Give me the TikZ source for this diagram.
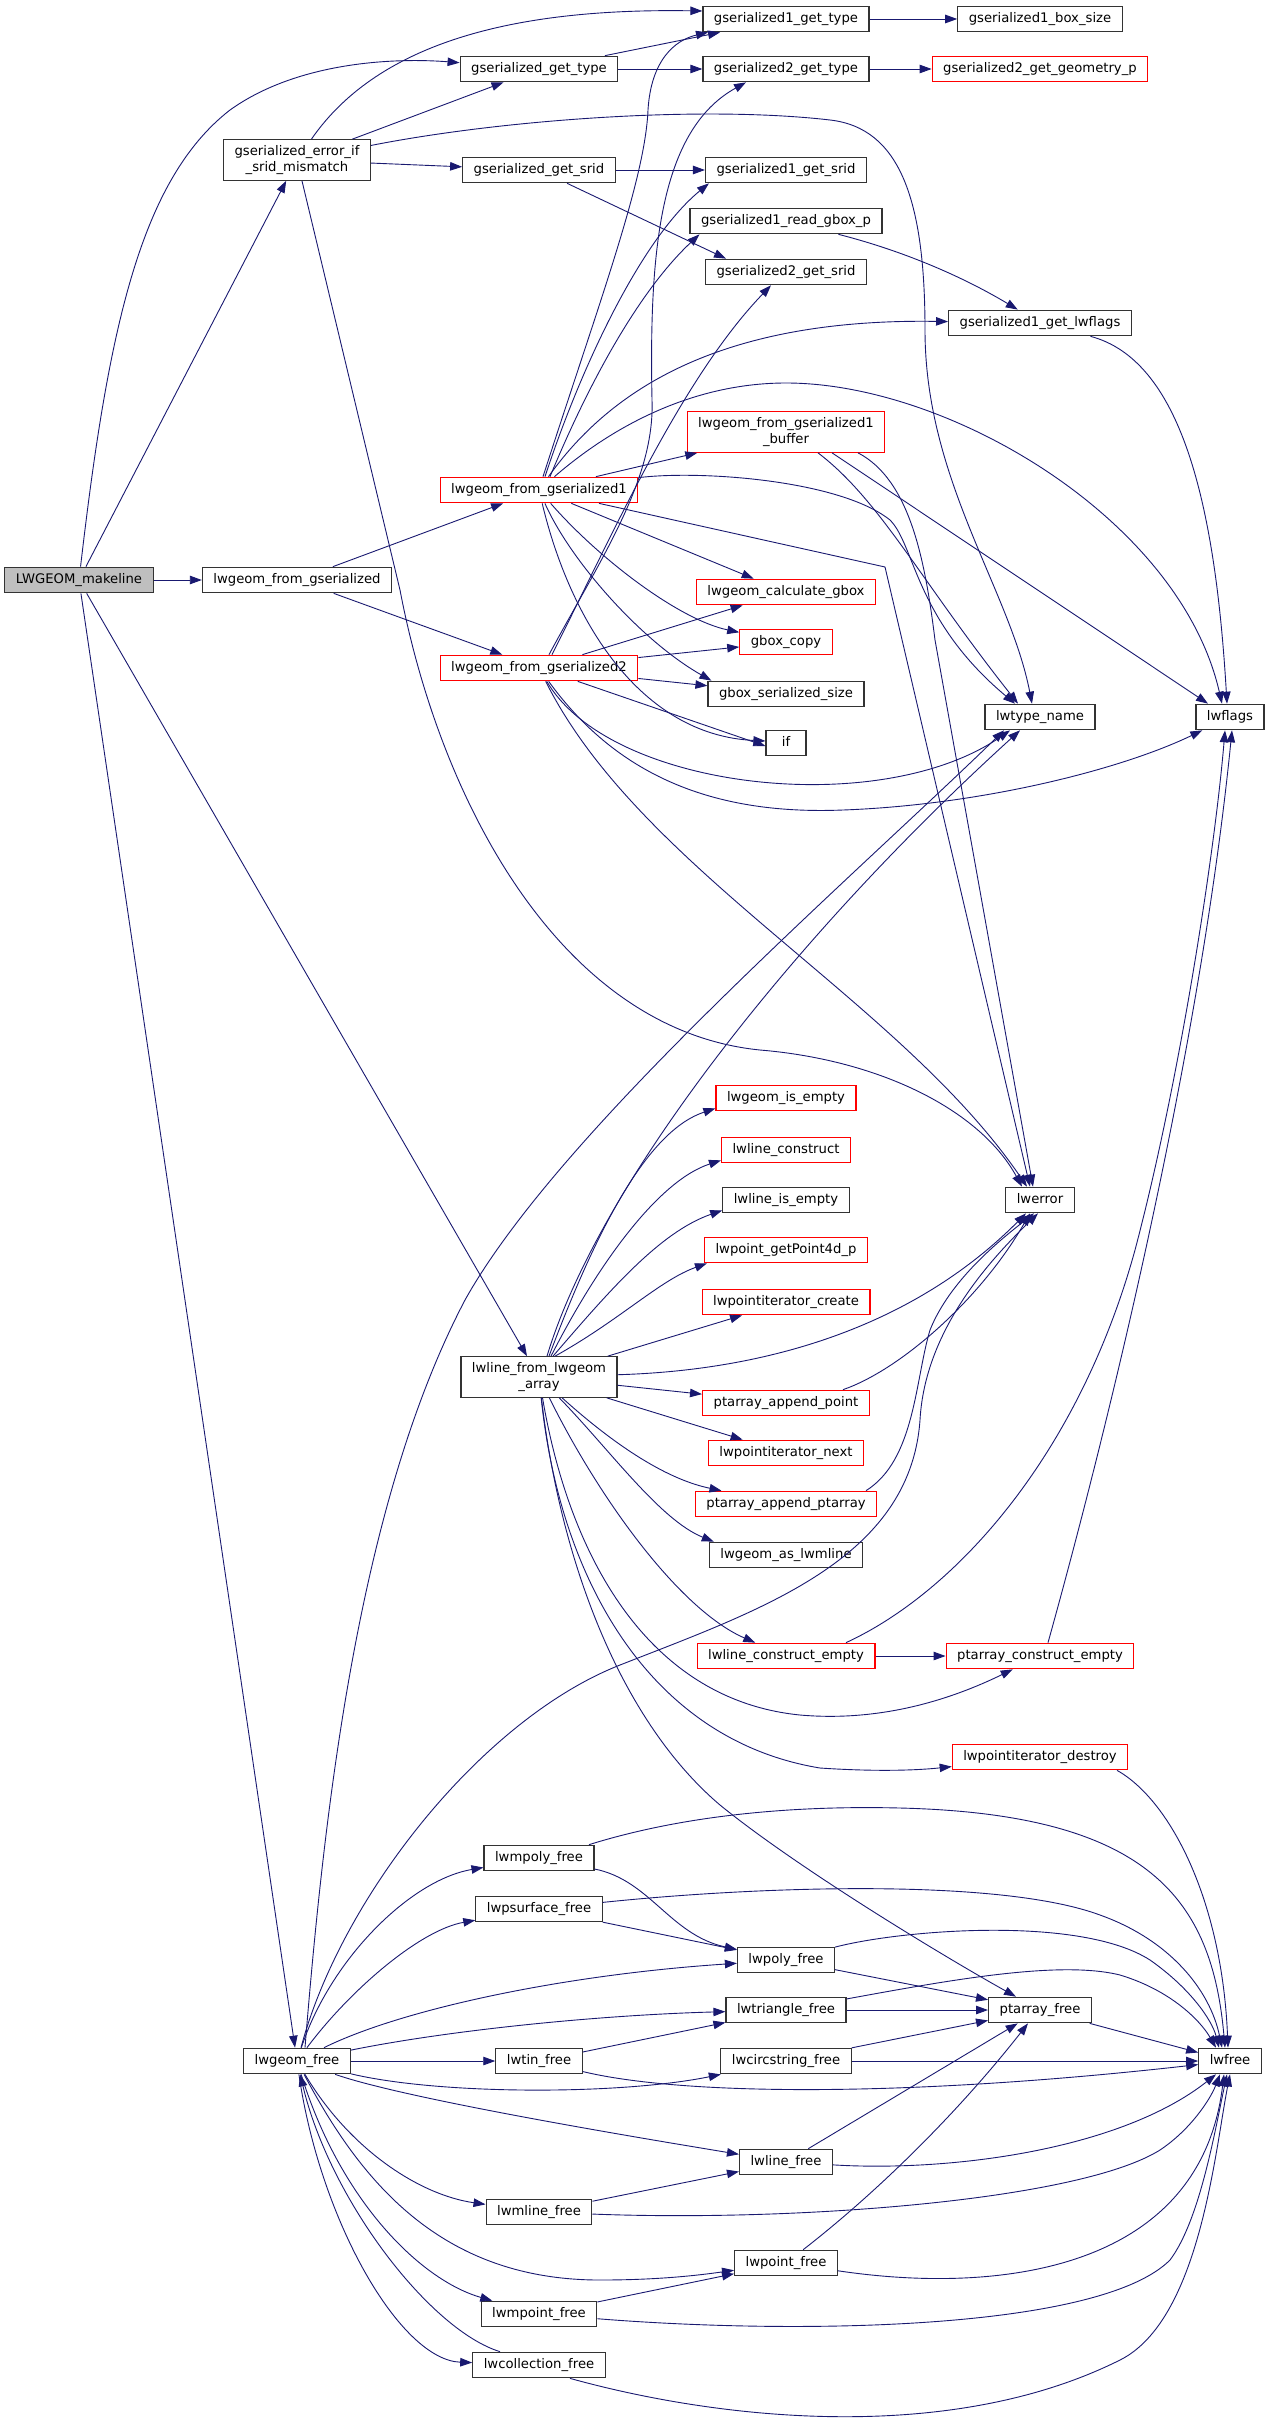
\documentclass[tikz,border=0pt]{standalone}
\usepackage{fontspec}
\setmainfont{DejaVu Sans}
\usetikzlibrary{arrows.meta}
\definecolor{edgeblue}{RGB}{25,25,112}
\definecolor{mainfill}{RGB}{191,191,191}

\begin{document}
\begin{tikzpicture}[x=1pt,y=-1pt,
  fn/.style={draw=black!80,line width=1.2pt,fill=white,font=\fontsize{13.2}{15.5}\selectfont,
    inner xsep=11pt,inner ysep=0pt,minimum height=25.5pt,minimum width=40pt,
    text height=9.8pt,text depth=3.2pt},
  fnred/.style={fn,draw=red},
  fnmain/.style={fn,fill=mainfill},
  two/.style={text height=,text depth=,align=center,minimum height=40.5pt},
  call/.style={draw=edgeblue,line width=0.9pt,-{Triangle[length=12pt,width=8.5pt]}}]
\useasboundingbox (0,0) rectangle (1269,2424);

\node[fnmain] (mk) at (79,580) {LWGEOM\_makeline};
\node[fn] (fg) at (297,580) {lwgeom\_from\_gserialized};
\node[fn,two] (em) at (297,160) {gserialized\_error\_if\\\_srid\_mismatch};
\node[fn] (lf) at (297,2061) {lwgeom\_free};

\node[fn] (gt) at (539,69) {gserialized\_get\_type};
\node[fn] (gs) at (539,170) {gserialized\_get\_srid};
\node[fnred] (g1) at (539,490) {lwgeom\_from\_gserialized1};
\node[fnred] (g2) at (539,668) {lwgeom\_from\_gserialized2};
\node[fn,two] (la) at (539,1377) {lwline\_from\_lwgeom\\\_array};
\node[fn] (mpoly) at (539,1858) {lwmpoly\_free};
\node[fn] (psurf) at (539,1909) {lwpsurface\_free};
\node[fn] (tin) at (539,2061) {lwtin\_free};
\node[fn] (mline) at (539,2212) {lwmline\_free};
\node[fn] (mpoint) at (539,2314) {lwmpoint\_free};
\node[fn] (coll) at (539,2365) {lwcollection\_free};

\node[fn] (g1t) at (786,19) {gserialized1\_get\_type};
\node[fn] (g2t) at (786,69) {gserialized2\_get\_type};
\node[fn] (g1s) at (786,170) {gserialized1\_get\_srid};
\node[fn] (rgb) at (786,221) {gserialized1\_read\_gbox\_p};
\node[fn] (g2s) at (786,272) {gserialized2\_get\_srid};
\node[fnred,two] (buf) at (786,432) {lwgeom\_from\_gserialized1\\\_buffer};
\node[fnred] (cg) at (786,592) {lwgeom\_calculate\_gbox};
\node[fnred] (gc) at (786,642) {gbox\_copy};
\node[fn] (gss) at (786,694) {gbox\_serialized\_size};
\node[fn] (iff) at (786,743) {if};
\node[fnred] (ie) at (786,1098) {lwgeom\_is\_empty};
\node[fnred] (lc) at (786,1150) {lwline\_construct};
\node[fn] (lie) at (786,1200) {lwline\_is\_empty};
\node[fnred] (p4d) at (786,1250) {lwpoint\_getPoint4d\_p};
\node[fnred] (pic) at (786,1302) {lwpointiterator\_create};
\node[fnred] (pap) at (786,1403) {ptarray\_append\_point};
\node[fnred] (pin) at (786,1453) {lwpointiterator\_next};
\node[fnred] (papa) at (786,1504) {ptarray\_append\_ptarray};
\node[fn] (asm) at (786,1555) {lwgeom\_as\_lwmline};
\node[fnred] (lce) at (786,1656) {lwline\_construct\_empty};
\node[fn] (poly) at (786,1960) {lwpoly\_free};
\node[fn] (tri) at (786,2010) {lwtriangle\_free};
\node[fn] (circ) at (786,2061) {lwcircstring\_free};
\node[fn] (line) at (786,2162) {lwline\_free};
\node[fn] (point) at (786,2263) {lwpoint\_free};

\node[fn] (bs) at (1040,19) {gserialized1\_box\_size};
\node[fnred] (gp) at (1040,69) {gserialized2\_get\_geometry\_p};
\node[fn] (lwf) at (1040,323) {gserialized1\_get\_lwflags};
\node[fn] (lt) at (1040,717) {lwtype\_name};
\node[fn] (err) at (1040,1200) {lwerror};
\node[fnred] (pce) at (1040,1656) {ptarray\_construct\_empty};
\node[fnred] (pid) at (1040,1757) {lwpointiterator\_destroy};
\node[fn] (pf) at (1040,2010) {ptarray\_free};

\node[fn] (flags) at (1230,717) {lwflags};
\node[fn] (free) at (1230,2061) {lwfree};

\draw[call] (mk) -- (em);
\draw[call] (mk) .. controls (108,330) and (140,180) .. (230,110) .. controls (300,60) and (400,58) .. (gt);
\draw[call] (mk) -- (fg);
\draw[call] (mk) -- (la);
\draw[call] (mk) -- (lf);

\draw[call] (em) -- (gt);
\draw[call] (em) .. controls (380,40) and (520,8) .. ([yshift=8pt]g1t.west);
\draw[call] (em) -- (gs);
\draw[call] (em) .. controls (500,120) and (700,105) .. (830,120) .. controls (900,128) and (925,200) .. (925,330) .. controls (925,480) and (1010,590) .. ([xshift=-8pt]lt.north);
\draw[call] (em) -- (400,590) .. controls (440,800) and (560,1030) .. (760,1050) .. controls (880,1060) and (980,1110) .. ([xshift=-18pt]err.north);

\draw[call] (fg) -- (g1);
\draw[call] (fg) -- (g2);
\draw[call] (gt) -- (g1t);
\draw[call] (gt) -- (g2t);
\draw[call] (gs) -- (g1s);
\draw[call] (gs) -- ([xshift=-60pt]g2s.north);
\draw[call] (g1t) -- (bs);
\draw[call] (g2t) -- (gp);
\draw[call] (rgb) .. controls (900,250) and (960,275) .. (lwf);
\draw[call] (lwf) .. controls (1180,360) and (1215,500) .. ([xshift=-3pt]flags.north);

\draw[call] ([xshift=4pt]g1.north) .. controls (600,300) and (645,180) .. (648,110) .. controls (651,60) and (675,40) .. ([xshift=-78pt]g1t.south);
\draw[call] ([xshift=6pt]g1.north) .. controls (580,370) and (640,240) .. ([xshift=4pt]g1s.south west);
\draw[call] ([xshift=11pt]g1.north) .. controls (590,380) and (640,290) .. ([xshift=10pt]rgb.south west);
\draw[call] (g1) .. controls (610,390) and (720,318) .. (lwf);
\draw[call] (g1) .. controls (620,420) and (700,383) .. (786,383) .. controls (950,383) and (1180,520) .. ([xshift=-8pt]flags.north);
\draw[call] (g1) -- (buf);
\draw[call] (g1) .. controls (700,470) and (840,480) .. (890,520) .. controls (915,545) and (915,620) .. ([xshift=-25pt]lt.north);
\draw[call] (g1) -- (885,567) -- ([xshift=-10pt]err.north);
\draw[call] (g1) -- (cg);
\draw[call] (g1) .. controls (600,560) and (680,620) .. (gc);
\draw[call] (g1) .. controls (570,560) and (640,640) .. ([xshift=4pt]gss.north west);
\draw[call] (g1) .. controls (570,620) and (640,735) .. ([yshift=2pt]iff.west);

\draw[call] ([xshift=10pt]g2.north) .. controls (600,560) and (655,480) .. (652,400) .. controls (649,250) and (660,130) .. ([xshift=-40pt]g2t.south);
\draw[call] ([xshift=13pt]g2.north) .. controls (610,540) and (680,380) .. ([xshift=-15pt]g2s.south);
\draw[call] (g2) -- (cg);
\draw[call] (g2) -- (gc);
\draw[call] (g2) -- (gss);
\draw[call] (g2) -- ([yshift=-3pt]iff.west);
\draw[call] (g2) .. controls (610,790) and (880,820) .. ([xshift=-30pt]lt.south);
\draw[call] (g2) .. controls (620,780) and (720,815) .. (843,810) .. controls (980,805) and (1120,770) .. (flags);
\draw[call] (g2) .. controls (640,870) and (900,1000) .. ([xshift=-13pt]err.north);

\draw[call] ([xshift=32pt]buf.south) .. controls (880,500) and (920,580) .. ([xshift=-22pt]lt.north);
\draw[call] ([xshift=72pt]buf.south) .. controls (910,480) and (925,560) .. (935,640) -- ([xshift=-7pt]err.north);
\draw[call] ([xshift=46pt]buf.south) -- ([xshift=-22pt]flags.north);

\draw[call] ([xshift=8pt]la.north) .. controls (600,1180) and (800,930) .. ([xshift=-20pt]lt.south);
\draw[call] (la) .. controls (780,1370) and (920,1320) .. ([xshift=-14pt]err.south);
\draw[call] ([xshift=10pt]la.north) .. controls (600,1220) and (650,1130) .. ([yshift=3pt]ie.south west);
\draw[call] ([xshift=12pt]la.north) .. controls (600,1260) and (660,1180) .. ([yshift=3pt]lc.south west);
\draw[call] ([xshift=14pt]la.north) .. controls (610,1290) and (660,1232) .. ([yshift=3pt]lie.south west);
\draw[call] ([xshift=16pt]la.north) .. controls (620,1320) and (660,1280) .. ([xshift=3pt]p4d.south west);
\draw[call] (la) -- (pic);
\draw[call] (la) -- (pap);
\draw[call] (la) -- (pin);
\draw[call] (la) .. controls (620,1450) and (670,1480) .. (papa);
\draw[call] (la) .. controls (610,1450) and (660,1520) .. ([xshift=5pt]asm.north west);
\draw[call] (la) .. controls (600,1500) and (680,1610) .. (lce);
\draw[call] (la) .. controls (570,1560) and (650,1700) .. (800,1715) .. controls (880,1722) and (950,1700) .. (pce);
\draw[call] (la) .. controls (560,1580) and (650,1740) .. (820,1768) .. controls (880,1772) and (920,1770) .. (pid);
\draw[call] (la) .. controls (560,1560) and (620,1720) .. (720,1805) .. controls (800,1870) and (950,1960) .. (pf);

\draw[call] ([xshift=57pt]pap.north) .. controls (900,1370) and (980,1300) .. ([xshift=-10pt]err.south);
\draw[call] ([xshift=80pt]papa.north) .. controls (915,1460) and (915,1380) .. (930,1330) .. controls (950,1280) and (1000,1240) .. ([xshift=-6pt]err.south);
\draw[call] (lce) -- (pce);
\draw[call] ([xshift=60pt]lce.north) .. controls (960,1590) and (1080,1450) .. (1135,1250) .. controls (1180,1080) and (1215,850) .. ([xshift=-5pt]flags.south);
\draw[call] ([xshift=8pt]pce.north) .. controls (1110,1420) and (1200,1050) .. ([xshift=2pt]flags.south);
\draw[call] ([xshift=77pt]pid.south) .. controls (1170,1800) and (1222,1900) .. ([xshift=-2pt]free.north);

\draw[call] ([xshift=4pt]lf.north) .. controls (340,1900) and (480,1720) .. (620,1665) .. controls (760,1610) and (910,1560) .. (920,1420) .. controls (925,1330) and (990,1260) .. ([xshift=-2pt]err.south);
\draw[call] ([xshift=8pt]lf.north) .. controls (325,1800) and (360,1500) .. (465,1300) .. controls (560,1130) and (850,880) .. ([xshift=-36pt]lt.south);
\draw[call] (lf) .. controls (330,1960) and (410,1880) .. (mpoly);
\draw[call] (lf) .. controls (350,1990) and (420,1930) .. (psurf);
\draw[call] (lf) .. controls (400,2010) and (560,1975) .. (poly);
\draw[call] (lf) .. controls (450,2030) and (600,2015) .. (tri);
\draw[call] (lf) -- (tin);
\draw[call] (lf) .. controls (440,2095) and (620,2095) .. (circ);
\draw[call] (lf) .. controls (380,2090) and (500,2115) .. (line);
\draw[call] (lf) .. controls (350,2150) and (420,2195) .. (mline);
\draw[call] (lf) .. controls (360,2180) and (440,2280) .. (600,2280) .. controls (660,2280) and (700,2275) .. (point);
\draw[call] (lf) .. controls (340,2200) and (420,2280) .. (mpoint);
\draw[call] (lf) .. controls (320,2220) and (400,2360) .. (coll);

\draw[call] ([xshift=50pt]mpoly.north) .. controls (700,1810) and (820,1806) .. (900,1808) .. controls (1150,1814) and (1212,1900) .. ([xshift=-5pt]free.north);
\draw[call] (mpoly) .. controls (650,1880) and (670,1935) .. (poly);
\draw[call] (psurf) .. controls (760,1886) and (1000,1878) .. (1100,1915) .. controls (1170,1940) and (1210,1990) .. ([xshift=-8pt]free.north);
\draw[call] (psurf) -- (poly);
\draw[call] (poly) .. controls (900,1930) and (1080,1915) .. (1150,1960) .. controls (1190,1988) and (1212,2020) .. ([xshift=-11pt]free.north);
\draw[call] (poly) -- (pf);
\draw[call] (tri) .. controls (950,1980) and (1060,1960) .. (1120,1975) .. controls (1170,1990) and (1200,2020) .. ([xshift=-14pt]free.north);
\draw[call] (tri) -- (pf);
\draw[call] (tin) -- (tri);
\draw[call] (tin) .. controls (680,2095) and (900,2098) .. (free);
\draw[call] (circ) -- (pf);
\draw[call] (circ) -- (free);
\draw[call] (pf) -- (free);
\draw[call] (line) -- (pf);
\draw[call] (line) .. controls (950,2172) and (1120,2150) .. ([xshift=-14pt]free.south);
\draw[call] (mline) -- (line);
\draw[call] (mline) .. controls (800,2222) and (1080,2200) .. (1160,2150) .. controls (1190,2130) and (1210,2100) .. ([xshift=-10pt]free.south);
\draw[call] (point) .. controls (880,2190) and (960,2110) .. ([xshift=-12pt]pf.south);
\draw[call] (point) .. controls (1000,2295) and (1200,2270) .. ([xshift=-6pt]free.south);
\draw[call] (mpoint) -- (point);
\draw[call] (mpoint) .. controls (800,2335) and (1100,2330) .. (1170,2260) .. controls (1200,2220) and (1215,2130) .. ([xshift=-3pt]free.south);
\draw[call] ([xshift=-39pt]coll.north) .. controls (430,2330) and (330,2200) .. (lf);
\draw[call] ([xshift=31pt]coll.south) .. controls (720,2420) and (950,2445) .. (1120,2360) .. controls (1200,2320) and (1215,2150) .. (free.south);
\end{tikzpicture}
\end{document}
